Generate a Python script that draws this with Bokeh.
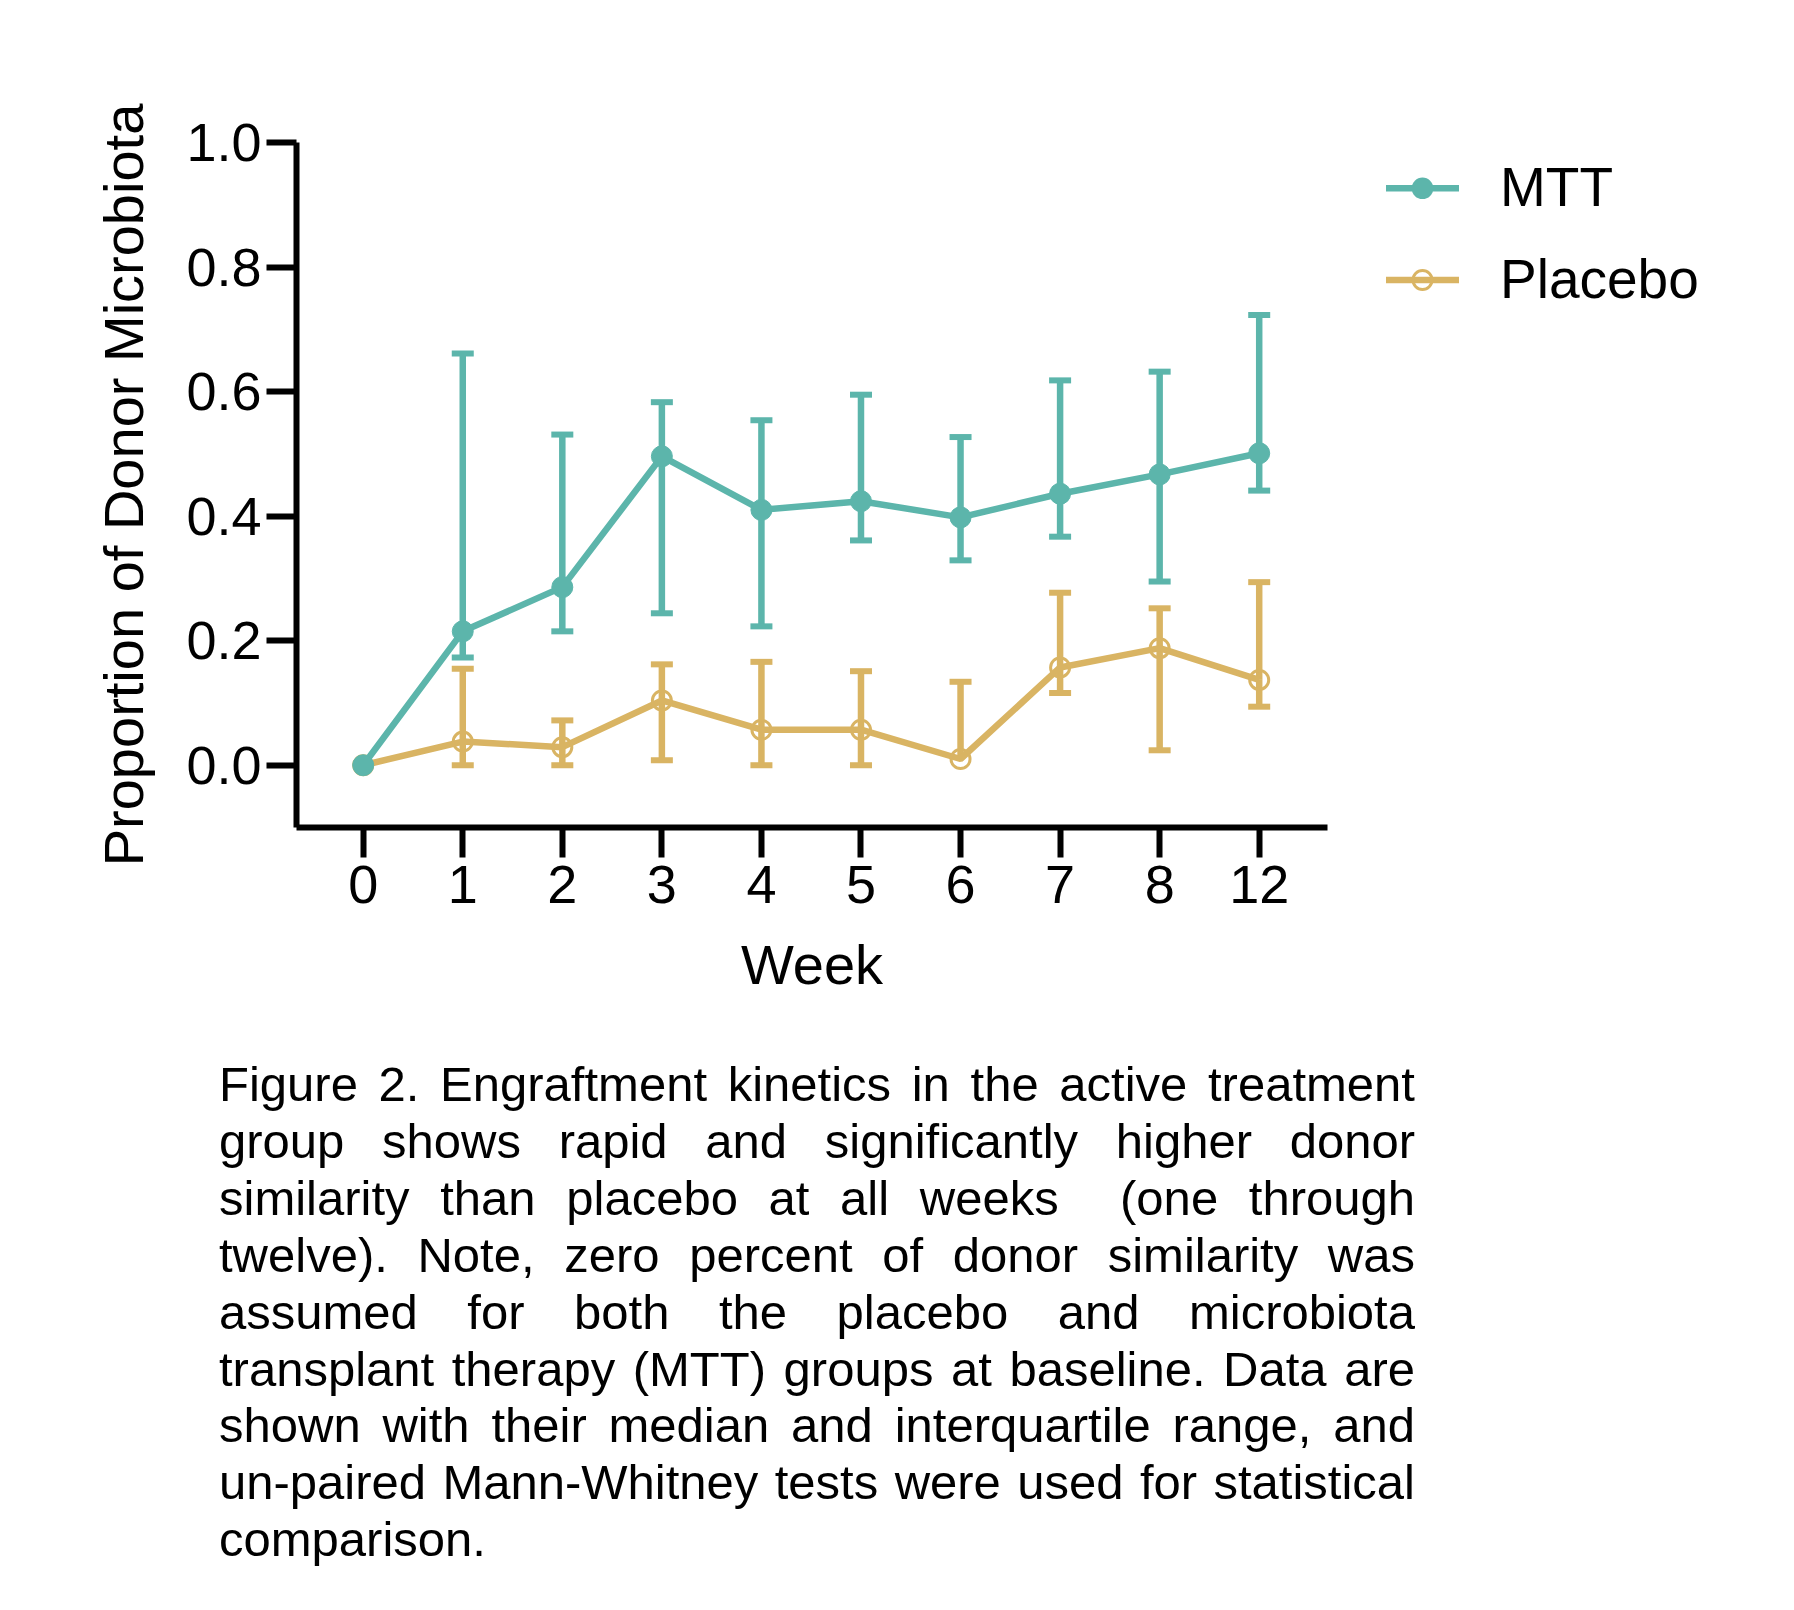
from bokeh.plotting import figure
from bokeh.models import (Range1d, FixedTicker, Whisker, TeeHead, ColumnDataSource, Div)
from bokeh.layouts import column, row
from bokeh.embed import file_html
from bokeh.resources import INLINE

# ---------------- data ----------------
weeks = ["0", "1", "2", "3", "4", "5", "6", "7", "8", "12"]
mtt_median = [0.0, 0.215, 0.286, 0.496, 0.410, 0.424, 0.398, 0.436, 0.467, 0.501]
mtt_q1 = [0.0, 0.173, 0.215, 0.244, 0.223, 0.361, 0.329, 0.367, 0.295, 0.441]
mtt_q3 = [0.0, 0.661, 0.531, 0.583, 0.554, 0.595, 0.527, 0.618, 0.632, 0.723]
pl_median = [0.0, 0.038, 0.029, 0.104, 0.057, 0.057, 0.010, 0.157, 0.188, 0.137]
pl_q1 = [0.0, 0.0, 0.0, 0.008, 0.0, 0.0, 0.010, 0.116, 0.024, 0.094]
pl_q3 = [0.0, 0.155, 0.072, 0.162, 0.166, 0.151, 0.134, 0.277, 0.252, 0.294]
y_ticks = [0.0, 0.2, 0.4, 0.6, 0.8, 1.0]
series_names = ["MTT", "Placebo"]

caption_lines = [
    "Figure 2. Engraftment kinetics in the active treatment",
    "group shows rapid and significantly higher donor",
    "similarity than placebo at all weeks&nbsp; (one through",
    "twelve). Note, zero percent of donor similarity was",
    "assumed for both the placebo and microbiota",
    "transplant therapy (MTT) groups at baseline. Data are",
    "shown with their median and interquartile range, and",
    "un-paired Mann-Whitney tests were used for statistical",
    "comparison.",
]

TEAL = "#5cb5ab"
GOLD = "#d9b463"
FONT = "Liberation Sans"

xs = list(range(len(weeks)))

# ---------------- main plot ----------------
p = figure(width=1337, height=1056, output_backend="svg", toolbar_location=None,
           x_range=Range1d(-0.67, 9.686), y_range=Range1d(-0.1, 1.0))
p.min_border_left = 296
p.min_border_right = 10
p.min_border_top = 142
p.min_border_bottom = 1056 - 827
p.outline_line_color = None
p.xgrid.grid_line_color = None
p.ygrid.grid_line_color = None
p.background_fill_color = "white"
p.border_fill_color = "white"

for ax in (p.xaxis[0], p.yaxis[0]):
    ax.axis_line_width = 6
    ax.axis_line_color = "black"
    ax.major_tick_line_width = 6
    ax.major_tick_line_color = "black"
    ax.major_tick_out = 30
    ax.major_tick_in = 0
    ax.minor_tick_line_color = None
    ax.major_label_text_font = FONT
    ax.major_label_text_font_size = "54px"
    ax.major_label_text_color = "black"
    ax.axis_label_text_font = FONT
    ax.axis_label_text_font_size = "56px"
    ax.axis_label_text_font_style = "normal"
    ax.axis_label_text_color = "black"

p.xaxis.ticker = FixedTicker(ticks=xs)
p.xaxis.major_label_overrides = {i: w for i, w in enumerate(weeks)}
p.xaxis.major_label_standoff = 8
p.xaxis.axis_label = "Week"
p.xaxis.axis_label_standoff = 27

p.yaxis.ticker = FixedTicker(ticks=y_ticks)
p.yaxis.major_label_overrides = {t: f"{t:.1f}" for t in y_ticks}
p.yaxis.major_label_standoff = 5
p.yaxis.axis_label = "Proportion of Donor Microbiota"
p.yaxis.axis_label_standoff = 28


def add_series(med, q1, q3, color, filled):
    src = ColumnDataSource(dict(x=xs, y=med))
    p.line("x", "y", source=src, line_color=color, line_width=6.5)
    # error bars (skip baseline week, which has no spread)
    up = ColumnDataSource(dict(x=xs[1:], lo=med[1:], hi=q3[1:]))
    p.add_layout(Whisker(source=up, base="x", lower="lo", upper="hi",
                         line_color=color, line_width=6.5, lower_head=None,
                         upper_head=TeeHead(size=22, line_color=color, line_width=6)))
    idx = [i for i in xs[1:] if q1[i] < med[i]]
    dn = ColumnDataSource(dict(x=[xs[i] for i in idx], lo=[q1[i] for i in idx],
                               hi=[med[i] for i in idx]))
    p.add_layout(Whisker(source=dn, base="x", lower="lo", upper="hi",
                         line_color=color, line_width=6.5, upper_head=None,
                         lower_head=TeeHead(size=22, line_color=color, line_width=6)))
    if filled:
        p.scatter("x", "y", source=src, size=21, marker="circle",
                  fill_color=color, line_color=color, line_width=1)
    else:
        p.scatter("x", "y", source=src, size=19, marker="circle",
                  fill_color=None, line_color=color, line_width=3)


add_series(pl_median, pl_q1, pl_q3, GOLD, False)
add_series(mtt_median, mtt_q1, mtt_q3, TEAL, True)

# ---------------- legend (to the right of the plot) ----------------
svg_parts = []
for k, (name, color, filled) in enumerate(zip(series_names, [TEAL, GOLD], [True, False])):
    cy = 188.3 + k * 91.7
    svg_parts.append(
        f'<line x1="49" y1="{cy}" x2="122" y2="{cy}" stroke="{color}" stroke-width="6.5"/>')
    if filled:
        svg_parts.append(f'<circle cx="85.5" cy="{cy}" r="10.8" fill="{color}"/>')
    else:
        svg_parts.append(f'<circle cx="85.5" cy="{cy}" r="9.5" fill="none" '
                         f'stroke="{color}" stroke-width="3"/>')
    svg_parts.append(f'<text x="163" y="{cy + 17.6}" font-family="{FONT}" '
                     f'font-size="55" fill="black">{name}</text>')
legend_html = ('<svg xmlns="http://www.w3.org/2000/svg" width="449" height="330">'
               + "".join(svg_parts) + "</svg>")
legend_div = Div(text=legend_html, width=449, height=330, margin=(0, 0, 0, 0))

# ---------------- caption ----------------
html = '<div style="width:1196px;">' + "".join(
    f'<div style="text-align:justify;text-align-last:justify;">{l}</div>'
    for l in caption_lines[:-1]
) + f'<div style="text-align:left;">{caption_lines[-1]}</div></div>'

div = Div(text=html, width=1200, margin=(0, 0, 0, 219),
          styles={"font-family": FONT, "font-size": "49px", "line-height": "56.9px",
                  "color": "black"})

layout = column(row(p, legend_div, spacing=0), div, spacing=0)
open("out.html", "w").write(file_html(layout, INLINE))
